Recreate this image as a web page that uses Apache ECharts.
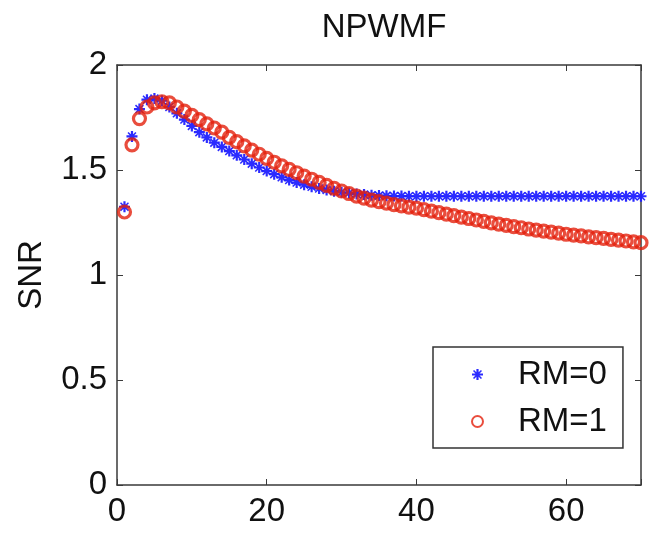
<!DOCTYPE html>
<html>
<head>
<meta charset="utf-8">
<script src="https://cdn.jsdelivr.net/npm/echarts@6/dist/echarts.min.js"></script>
<style>
html,body{margin:0;padding:0;background:#fff;}
#c{width:650px;height:534px;}
</style>
</head>
<body>
<div id="c"></div>
<script>
var xValues = [1,2,3,4,5,6,7,8,9,10,11,12,13,14,15,16,17,18,19,20,21,22,23,24,25,26,27,28,29,30,31,32,33,34,35,36,37,38,39,40,41,42,43,44,45,46,47,48,49,50,51,52,53,54,55,56,57,58,59,60,61,62,63,64,65,66,67,68,69,70];
var rm0 = [1.325,1.66,1.79,1.835,1.84,1.83,1.80,1.77,1.74,1.71,1.68,1.655,1.63,1.61,1.59,1.57,1.55,1.53,1.512,1.495,1.48,1.465,1.452,1.44,1.43,1.42,1.412,1.405,1.399,1.394,1.39,1.386,1.383,1.38,1.378,1.377,1.376,1.376,1.375,1.375,1.375,1.375,1.375,1.375,1.375,1.375,1.375,1.375,1.375,1.375,1.375,1.375,1.375,1.375,1.375,1.375,1.375,1.375,1.375,1.375,1.375,1.375,1.375,1.375,1.375,1.375,1.375,1.375,1.375,1.375];
var rm1 = [1.30,1.62,1.745,1.80,1.82,1.825,1.82,1.80,1.78,1.76,1.74,1.72,1.70,1.68,1.655,1.635,1.615,1.595,1.575,1.555,1.537,1.52,1.503,1.487,1.471,1.456,1.441,1.427,1.413,1.40,1.388,1.376,1.366,1.357,1.349,1.342,1.335,1.329,1.323,1.318,1.311,1.304,1.297,1.290,1.283,1.276,1.269,1.262,1.255,1.248,1.242,1.236,1.230,1.225,1.219,1.214,1.209,1.204,1.199,1.194,1.190,1.186,1.182,1.178,1.174,1.170,1.166,1.162,1.158,1.154];
var xTicks = [0,20,40,60];
var yTicks = [0,0.5,1,1.5,2];
var seriesNames = ['RM=0','RM=1'];

var FONT = 'Liberation Sans';
var axisColor = '#3a3a3a';
function pairs(ys){ return xValues.map(function(x,i){ return [x, ys[i]]; }); }
var starPath = 'path://M-1,-5H1V5H-1Z M-5,-1H5V1H-5Z M-4.1,-3.1L-3.1,-4.1L4.1,3.1L3.1,4.1Z M3.1,-4.1L4.1,-3.1L-3.1,4.1L-4.1,3.1Z';

var chart = echarts.init(document.getElementById('c'), null, {renderer:'canvas'});
chart.setOption({
  backgroundColor:'#fff',
  animation:false,
  title:{text:'NPWMF', left:379, textAlign:'center', top:6,
    textStyle:{fontFamily:FONT, fontSize:33, fontWeight:'normal', color:'#111'}},
  grid:{left:117, right:9, top:65, bottom:49, containLabel:false},
  legend:{
    orient:'vertical', left:433, top:347,
    padding:[11,16,10,38],
    itemGap:14, itemWidth:11, itemHeight:11,
    borderColor:'#333', borderWidth:1.5, backgroundColor:'#fff',
    textStyle:{fontFamily:FONT, fontSize:33, color:'#111', lineHeight:33, padding:[0,0,0,30]},
    data:seriesNames
  },
  xAxis:[{
    type:'value', min:0, max:70, interval:20, position:'bottom',
    axisLine:{show:true, onZero:false, lineStyle:{color:axisColor, width:1.5}},
    axisTick:{show:true, inside:true, length:6, lineStyle:{color:axisColor}},
    axisLabel:{fontFamily:FONT, fontSize:33, color:'#111', margin:10,
      formatter:function(v){ return xTicks.indexOf(v)>=0 ? String(v) : ''; }},
    splitLine:{show:false}
  },{
    type:'value', min:0, max:70, interval:20, position:'top',
    axisLine:{show:true, onZero:false, lineStyle:{color:axisColor, width:1.5}},
    axisTick:{show:true, inside:true, length:6, lineStyle:{color:axisColor}},
    axisLabel:{show:false}, splitLine:{show:false}
  }],
  yAxis:[{
    type:'value', min:0, max:2, interval:0.5, position:'left',
    name:'SNR', nameLocation:'middle', nameGap:69, nameMoveOverlap:false,
    nameTextStyle:{fontFamily:FONT, fontSize:33, color:'#111'},
    axisLine:{show:true, onZero:false, lineStyle:{color:axisColor, width:1.5}},
    axisTick:{show:true, inside:true, length:6, lineStyle:{color:axisColor}},
    axisLabel:{fontFamily:FONT, fontSize:33, color:'#111', margin:10,
      formatter:function(v){ return yTicks.indexOf(v)>=0 ? String(v) : ''; }},
    splitLine:{show:false}
  },{
    type:'value', min:0, max:2, interval:0.5, position:'right',
    axisLine:{show:true, onZero:false, lineStyle:{color:axisColor, width:1.5}},
    axisTick:{show:true, inside:true, length:6, lineStyle:{color:axisColor}},
    axisLabel:{show:false}, splitLine:{show:false}
  }],
  series:[{
    name:seriesNames[0], type:'scatter', data:pairs(rm0),
    symbol:starPath, symbolSize:11,
    itemStyle:{color:'#2020ff', opacity:0.95}
  },{
    name:seriesNames[1], type:'scatter', data:pairs(rm1),
    symbol:'circle', symbolSize:12,
    itemStyle:{color:'rgba(0,0,0,0)', borderColor:'#e3200c', borderWidth:3.2}
  }]
});
</script>
</body>
</html>
